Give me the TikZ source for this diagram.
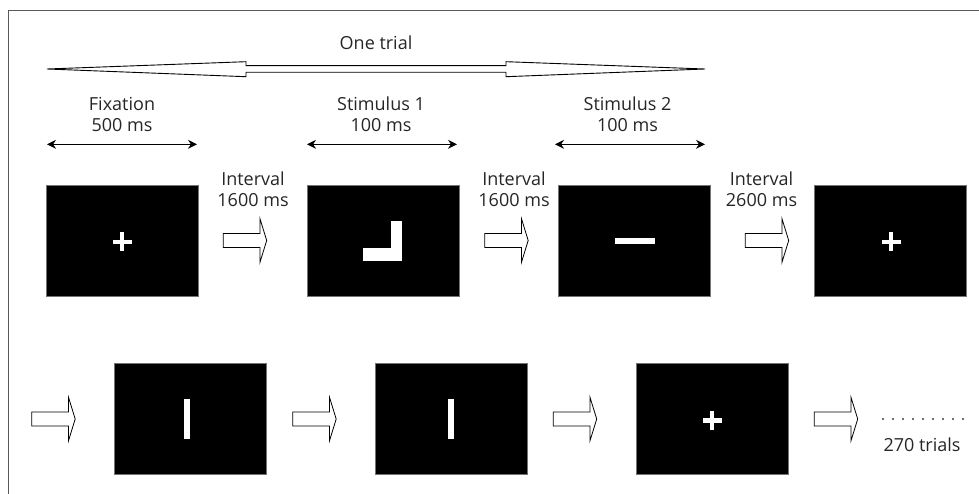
\documentclass[tikz,border=0pt]{standalone}
\usepackage{fontspec}
\setmainfont{Open Sans}
\usetikzlibrary{arrows.meta}
\begin{document}
\begin{tikzpicture}[x=1pt,y=-1pt,
  screen/.style={fill=black, draw=black!55, line width=0.6pt, minimum width=152pt, minimum height=111pt, inner sep=0pt},
  lbl/.style={anchor=base, inner sep=0pt, font=\fontsize{18}{21}\selectfont, text=black!85},
  span/.style={{Stealth[length=9pt,width=9pt]}-{Stealth[length=9pt,width=9pt]}, line width=1.2pt},
  blockarr/.pic={\draw[line width=0.8pt, fill=white] (-21.7,-7) -- (15,-7) -- (15,-21.7) -- (21.7,0) -- (15,21.7) -- (15,7) -- (-21.7,7) -- cycle;},
  crossmark/.pic={\fill[white] (-9.5,-2.2) rectangle (9.5,2.2); \fill[white] (-2.2,-9.5) rectangle (2.2,9.5);}
]
\useasboundingbox (0,0) rectangle (979,494);
\fill[white] (0,0) rectangle (979,494);
% frame (top and left)
\draw[black!65, line width=1.5pt] (979,10.5) -- (8.5,10.5) -- (8.5,494);

% one trial arrow
\draw[line width=0.9pt, fill=white] (47,69) -- (246,61.7) -- (246,65.7) -- (506,65.7) -- (506,61.7) -- (705,69) -- (506,76.7) -- (506,72.3) -- (246,72.3) -- (246,76.7) -- cycle;
\node[lbl] (onetrial) at (376,49.5) {One trial};

% labels
\node[lbl] (fixA) at (122,110.7) {Fixation};
\node[lbl] (fixB) at (122,131.7) {500 ms};
\node[lbl] (s1A) at (381,110.7) {Stimulus 1};
\node[lbl] (s1B) at (381,131.7) {100 ms};
\node[lbl] (s2A) at (627.5,110.7) {Stimulus 2};
\node[lbl] (s2B) at (627.5,131.7) {100 ms};

% span arrows
\coordinate (f1) at (47,144.3); \coordinate (f2) at (197,144.3);
\coordinate (g1) at (307,144.3); \coordinate (g2) at (457,144.3);
\coordinate (h1) at (555,144.3); \coordinate (h2) at (705,144.3);
\draw[span] (f1) -- (f2);
\draw[span] (g1) -- (g2);
\draw[span] (h1) -- (h2);

% interval labels
\node[lbl] (i1A) at (253,185.7) {Interval};
\node[lbl] (i1B) at (253,206.7) {1600 ms};
\node[lbl] (i2A) at (514,185.7) {Interval};
\node[lbl] (i2B) at (514,206.7) {1600 ms};
\node[lbl] (i3A) at (761.5,185.7) {Interval};
\node[lbl] (i3B) at (761.5,206.7) {2600 ms};

% screens row 1
\node[screen] (b1) at (122,240.5) {};
\node[screen] (b2) at (383,240.5) {};
\node[screen] (b3) at (634.5,240.5) {};
\node[screen] (b4) at (890.5,240.5) {};
% screens row 2
\node[screen] (b5) at (190.5,418.5) {};
\node[screen] (b6) at (451.5,418.5) {};
\node[screen] (b7) at (712,418.5) {};

% stimuli
\pic at (122,242) {crossmark};
\begin{scope}[shift={(b2.center)}]
  \fill[white] (7.7,-19.8) rectangle (19.3,20.2);
  \fill[white] (-20.3,7.8) rectangle (19.3,20.2);
\end{scope}
\begin{scope}[shift={(b3.center)}]
  \fill[white] (-20,-2.2) rectangle (20,3.5);
\end{scope}
\pic at (891,242) {crossmark};
\begin{scope}[shift={(b5.center)}]
  \fill[white] (-6.2,-19.5) rectangle (-0.5,20.5);
\end{scope}
\begin{scope}[shift={(b6.center)}]
  \fill[white] (-3.2,-19.5) rectangle (2.5,20.5);
\end{scope}
\pic at (712,420.5) {crossmark};

% block arrows
\pic at (245,240.5) {blockarr};
\pic at (506.5,240.5) {blockarr};
\pic at (767,240.5) {blockarr};
\pic at (53.5,419) {blockarr};
\pic at (314.5,419) {blockarr};
\pic at (575,419) {blockarr};
\pic at (836,419) {blockarr};

% continuation
\foreach \i in {0,...,8} \fill[black!75] (883+10*\i,419) circle (1.1pt);
\node[lbl] (trials) at (922,451.2) {270 trials};
\end{tikzpicture}
\end{document}
